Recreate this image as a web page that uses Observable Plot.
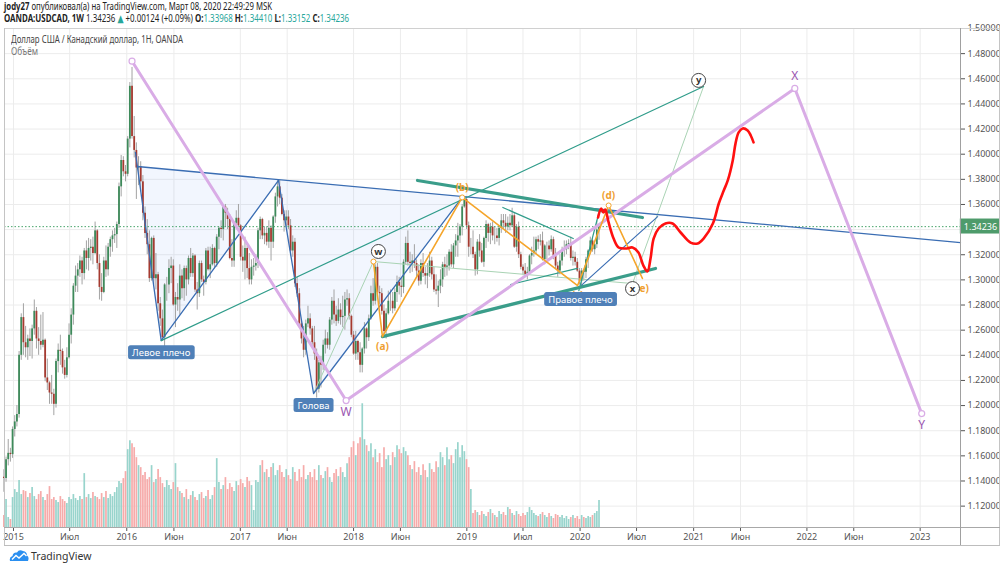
<!DOCTYPE html>
<html lang="ru">
<head>
<meta charset="utf-8">
<script src="https://cdn.jsdelivr.net/npm/d3@7"></script>
<script src="https://cdn.jsdelivr.net/npm/@observablehq/plot@0.6"></script>
<style>
  html,body{margin:0;padding:0;background:#fff;}
  #wrap{position:relative;width:1000px;height:568px;overflow:hidden;font-family:"Noto Sans","Open Sans","DejaVu Sans",sans-serif;}
  #wrap svg.plotlayer{position:absolute;left:0;top:0;}
  .t{position:absolute;white-space:nowrap;transform-origin:0 50%;display:inline-block;line-height:11px;}
  .ln{position:absolute;}
  .v{color:#26a69a;}
</style>
</head>
<body>
<div id="wrap">
  <div class="t" id="h1" style="left:4px;top:1px;font-size:10.5px;color:#222"><b>jody27</b> опубликовал(а) на TradingView.com, Март 08, 2020 22:49:29 MSK</div>
  <div class="t" id="h2" style="left:4px;top:13px;font-size:10.5px;color:#222"><b>OANDA:USDCAD, 1W</b> <span id="hv"></span> <span class="v">▲</span> +0.00124 (+0.09%) <b>O:</b><span class="v" id="ho"></span> <b>H:</b><span class="v" id="hh"></span> <b>L:</b><span class="v" id="hl"></span> <b>C:</b><span class="v" id="hc"></span></div>
  <div class="t" id="h3" style="left:11px;top:34px;font-size:10.5px;color:#444">Доллар США / Канадский доллар, 1Н, OANDA</div>
  <div class="t" id="h4" style="left:11px;top:46px;font-size:10px;color:#777">Объём</div>
  <div class="ln" style="left:4px;top:28px;width:996px;height:1px;background:#d0d0d0"></div>
  <div class="ln" style="left:4px;top:28px;width:1px;height:517px;background:#c4c4c4"></div>
  <div class="ln" style="left:999px;top:28px;width:1px;height:517px;background:#c4c4c4"></div>
  <div class="ln" style="left:4px;top:545px;width:996px;height:1px;background:#bdbdbd"></div>
  <div class="ln" style="left:4px;top:527px;width:996px;height:1px;background:#a8a8a8"></div>
  <div class="ln" style="left:960px;top:28px;width:1px;height:517px;background:#a0a0a0"></div>
  <svg style="position:absolute;left:9px;top:549px" width="20" height="13" viewBox="0 0 20 13">
    <path d="M1 12 Q0 8 3.5 7 Q4 3 8 3.5 Q10 0 14 2 Q18 2.5 18 6.5 Q20.5 8 19 12 Z" fill="#2a8ff0"/>
    <polyline points="3,10.5 7,6.5 10,9 15,4.5 17.5,7" fill="none" stroke="#fff" stroke-width="1.4"/>
  </svg>
  <div class="t" style="left:31px;top:551px;font-size:10.5px;color:#333">TradingView</div>
</div>
<script>
// ---------------- DATA ----------------
const firstWeek = "2014-12-01";      // Monday of first weekly candle
const firstOpen = 1.143;
const close = [
1.142,1.157,1.162,1.161,1.181,
1.187,1.193,1.240,1.270,1.250,1.246,1.253,1.251,1.261,1.275,1.253,1.251,1.248,1.252,1.222,1.218,1.210,1.209,1.201,1.235,1.244,1.243,1.230,1.224,1.238,1.256,1.272,1.295,1.303,1.308,1.315,1.305,1.323,1.317,1.325,1.326,1.321,1.339,1.313,1.294,1.290,1.315,1.308,1.326,1.332,1.335,1.336,1.344,1.374,1.395,1.386,1.384,
1.412,1.454,1.414,1.403,1.389,1.390,1.378,1.353,1.337,1.328,1.301,1.333,1.301,1.304,1.281,1.269,1.254,1.296,1.296,1.309,1.311,1.280,1.286,1.284,1.303,1.293,1.309,1.300,1.317,1.305,1.319,1.292,1.289,1.313,1.300,1.298,1.323,1.308,1.312,1.325,1.313,1.334,1.341,1.340,1.358,1.353,1.348,1.317,1.315,1.345,1.349,1.343,
1.318,1.315,1.325,1.309,1.300,1.310,1.311,1.313,1.339,1.348,1.335,1.337,1.330,1.341,1.330,1.350,1.366,1.374,1.365,1.352,1.347,1.350,1.343,1.323,1.330,1.297,1.289,1.265,1.253,1.244,1.265,1.269,1.261,1.250,1.241,1.213,1.234,1.232,1.248,1.253,1.248,1.268,1.283,1.272,1.267,1.276,1.270,1.271,1.284,1.285,1.271,1.256,
1.241,1.251,1.242,1.232,1.245,1.261,1.254,1.269,1.289,1.283,1.310,1.290,1.289,1.275,1.259,1.273,1.283,1.283,1.277,1.290,1.298,1.295,1.294,1.314,1.329,1.314,1.313,1.315,1.313,1.307,1.299,1.313,1.305,1.303,1.305,1.315,1.304,1.292,1.291,1.295,1.300,1.312,1.310,1.311,1.322,1.312,1.327,1.331,1.335,1.342,1.358,1.364,1.343,
1.326,1.326,1.320,1.308,1.330,1.323,1.314,1.333,1.344,1.337,1.342,1.335,1.335,1.333,1.341,1.347,1.345,1.342,1.345,1.343,1.351,1.326,1.342,1.320,1.310,1.307,1.304,1.306,1.319,1.321,1.323,1.332,1.330,1.331,1.316,1.327,1.327,1.324,1.332,1.319,1.311,1.307,1.315,1.324,1.324,1.328,1.329,1.317,1.318,1.314,1.307,1.299,
1.307,1.306,1.316,1.323,1.331,1.324,1.328,1.33968,1.34236];
const high = [
1.149,1.159,1.173,1.166,1.183,
1.192,1.200,1.243,1.273,1.281,1.263,1.256,1.261,1.264,1.284,1.278,1.262,1.272,1.274,1.253,1.237,1.219,1.224,1.213,1.237,1.249,1.256,1.245,1.236,1.246,1.265,1.277,1.297,1.311,1.313,1.319,1.318,1.325,1.331,1.333,1.332,1.334,1.346,1.340,1.320,1.305,1.318,1.327,1.329,1.334,1.339,1.341,1.346,1.377,1.399,1.398,1.391,
1.414,1.457,1.469,1.430,1.409,1.398,1.394,1.383,1.358,1.348,1.339,1.334,1.335,1.321,1.306,1.286,1.276,1.297,1.302,1.316,1.318,1.316,1.290,1.297,1.312,1.308,1.311,1.311,1.319,1.325,1.321,1.320,1.298,1.315,1.315,1.303,1.325,1.326,1.326,1.328,1.326,1.336,1.342,1.347,1.359,1.360,1.357,1.352,1.332,1.346,1.355,1.360,
1.344,1.327,1.334,1.327,1.321,1.316,1.317,1.320,1.341,1.350,1.349,1.342,1.342,1.347,1.343,1.351,1.369,1.379,1.379,1.368,1.355,1.355,1.355,1.348,1.335,1.333,1.302,1.293,1.267,1.263,1.268,1.279,1.273,1.263,1.263,1.245,1.236,1.239,1.252,1.260,1.258,1.270,1.286,1.292,1.279,1.285,1.281,1.287,1.290,1.292,1.289,1.272,
1.259,1.259,1.252,1.250,1.246,1.266,1.262,1.272,1.295,1.301,1.312,1.313,1.295,1.293,1.280,1.277,1.291,1.292,1.290,1.293,1.303,1.302,1.301,1.316,1.334,1.339,1.322,1.320,1.328,1.316,1.312,1.316,1.321,1.310,1.313,1.322,1.318,1.310,1.304,1.299,1.308,1.314,1.318,1.320,1.324,1.328,1.329,1.336,1.345,1.344,1.360,1.366,1.366,
1.346,1.333,1.339,1.322,1.332,1.336,1.329,1.334,1.347,1.345,1.345,1.346,1.342,1.341,1.343,1.352,1.352,1.352,1.350,1.352,1.357,1.353,1.344,1.346,1.322,1.312,1.313,1.310,1.320,1.326,1.334,1.334,1.335,1.336,1.338,1.328,1.330,1.331,1.335,1.334,1.325,1.314,1.320,1.326,1.331,1.331,1.332,1.334,1.323,1.322,1.317,1.309,
1.309,1.308,1.318,1.324,1.334,1.333,1.329,1.347,1.34410];
const low = [
1.131,1.139,1.152,1.155,1.158,
1.175,1.183,1.190,1.236,1.240,1.238,1.236,1.239,1.237,1.256,1.245,1.240,1.244,1.246,1.219,1.212,1.201,1.201,1.192,1.198,1.226,1.232,1.225,1.221,1.222,1.237,1.249,1.264,1.290,1.290,1.302,1.296,1.300,1.308,1.307,1.315,1.312,1.320,1.308,1.284,1.283,1.289,1.302,1.303,1.318,1.322,1.329,1.325,1.341,1.366,1.382,1.378,
1.382,1.405,1.412,1.397,1.364,1.375,1.370,1.347,1.333,1.320,1.298,1.299,1.296,1.292,1.275,1.263,1.251,1.246,1.283,1.289,1.297,1.279,1.262,1.275,1.272,1.285,1.283,1.287,1.296,1.302,1.302,1.290,1.276,1.286,1.298,1.287,1.296,1.307,1.301,1.311,1.309,1.310,1.324,1.333,1.331,1.342,1.340,1.316,1.310,1.310,1.340,1.342,
1.315,1.306,1.300,1.301,1.296,1.296,1.303,1.307,1.309,1.332,1.332,1.328,1.327,1.325,1.315,1.325,1.345,1.358,1.360,1.351,1.338,1.342,1.340,1.319,1.318,1.294,1.286,1.262,1.249,1.238,1.240,1.262,1.256,1.248,1.236,1.206,1.210,1.214,1.228,1.241,1.245,1.244,1.264,1.265,1.263,1.265,1.264,1.262,1.260,1.279,1.268,1.254,
1.240,1.236,1.236,1.226,1.226,1.241,1.245,1.251,1.268,1.279,1.280,1.286,1.280,1.272,1.255,1.253,1.272,1.275,1.273,1.275,1.282,1.288,1.286,1.289,1.312,1.311,1.305,1.306,1.309,1.302,1.295,1.296,1.302,1.296,1.293,1.302,1.300,1.290,1.288,1.278,1.289,1.294,1.302,1.303,1.307,1.310,1.309,1.318,1.318,1.329,1.335,1.357,1.340,
1.318,1.320,1.317,1.303,1.304,1.318,1.313,1.310,1.325,1.330,1.328,1.331,1.328,1.330,1.327,1.337,1.340,1.337,1.339,1.339,1.342,1.325,1.322,1.317,1.308,1.304,1.302,1.300,1.305,1.312,1.318,1.320,1.324,1.327,1.315,1.312,1.316,1.319,1.322,1.316,1.309,1.302,1.304,1.311,1.318,1.320,1.324,1.315,1.311,1.311,1.306,1.296,
1.295,1.299,1.301,1.309,1.320,1.322,1.320,1.325,1.33152];
const volume = [
12,28,10,8,30,
38,35,47,33,37,36,30,34,40,31,28,33,
36,30,27,33,41,28,30,27,25,31,28,26,24,
30,28,33,29,27,31,28,54,30,
33,29,35,31,30,28,34,30,36,29,33,31,35,40,
46,44,49,56,
78,87,84,80,70,62,
60,52,55,48,50,62,45,48,58,50,44,40,47,
42,38,45,64,40,36,
34,30,38,28,32,36,30,27,33,35,29,31,37,28,32,
40,69,45,38,42,50,38,44,40,36,46,
42,48,44,40,50,46,42,17,47,45,
62,67,55,58,50,60,64,52,57,62,55,50,58,
52,48,60,55,46,58,50,62,48,52,
55,50,58,47,62,52,49,56,60,50,45,54,58,51,60,55,50,64,
70,80,86,72,84,90,124,88,82,76,
84,70,78,65,74,60,80,68,72,62,75,70,
82,78,74,80,76,72,
62,58,66,55,60,52,63,57,50,64,58,55,
66,60,75,70,62,80,68,72,64,78,85,70,82,76,68,60,38,
14,17,15,12,16,13,11,15,18,14,12,10,16,13,15,12,20,18,14,12,16,13,11,14,12,15,20,17,14,12,11,13,15,12,10,14,11,9,13,12,10,12,9,11,8,10,12,9,11,8,12,10,9,11,10,12,14,16,
27];

// axes
const xTickDates  = ["2015-01-01","2015-07-01","2016-01-01","2016-06-01","2017-01-01","2017-06-01","2018-01-01","2018-06-01","2019-01-01","2019-07-01","2020-01-01","2020-07-01","2021-01-01","2021-06-01","2022-01-01","2022-06-01","2023-01-01"];
const xTickLabels = ["2015","Июл","2016","Июн","2017","Июн","2018","Июн","2019","Июл","2020","Июл","2021","Июн","2022","Июн","2023"];
const yTicks = [1.12,1.14,1.16,1.18,1.20,1.22,1.24,1.26,1.28,1.30,1.32,1.34,1.36,1.38,1.40,1.42,1.44,1.46,1.48,1.50];
const xDomainDates = ["2014-12-03","2023-05-11"];
const yDomain = [1.103, 1.50];
const volDomain = [0, 500];

// drawings (dates, prices)
const wxyDates  = ["2016-01-18","2017-12-08","2021-11-23","2023-01-06"];
const wxyPrices = [1.474, 1.204, 1.4523, 1.1936];
const wxyLabels = ["", "W", "X", "Y"];
const wxyPlace  = ["none","below","above","below"];

const hsZigDates  = ["2016-01-29","2016-04-21","2017-05-04","2017-08-25","2018-12-17"];
const hsZigPrices = [1.4014, 1.2517, 1.3791, 1.2096, 1.3656];
const hsFillDates  = ["2016-02-04","2016-04-21","2017-05-04","2017-08-25","2018-12-17"];
const hsFillPrices = [1.3902, 1.2517, 1.3791, 1.2096, 1.3656];
const neckDates  = ["2016-02-04","2023-05-11"];
const neckPrices = [1.3902, 1.3297];
const rsDates  = ["2019-12-28","2020-09-07"];
const rsPrices = [1.2939, 1.3504];
const hsLabelDates  = ["2016-04-21","2017-08-25","2020-01-02"];
const hsLabelPrices = [1.2517, 1.2096, 1.2939];
const hsLabelText   = ["Левое плечо","Голова","Правое плечо"];

const tealThin = [
  {dates:["2016-04-21","2021-02-02"], prices:[1.2517,1.4539]},
  {dates:["2019-04-27","2019-12-10"], prices:[1.3576,1.3329]},
  {dates:["2019-05-22","2019-12-23"], prices:[1.2963,1.3091]},
  {dates:["2019-12-28","2020-03-01"], prices:[1.2915,1.3528]}
];
const tealThick = [
  {dates:["2018-04-04","2020-08-31"], prices:[1.2549,1.3091]},
  {dates:["2018-07-26","2020-07-20"], prices:[1.3791,1.3496]}
];
const wxyMinorDates  = ["2017-08-25","2018-03-06","2020-06-18","2021-02-02"];
const wxyMinorPrices = [1.2096, 1.3146, 1.2971, 1.4539];
const circDates  = ["2018-03-22","2020-06-18","2021-01-17"];
const circPrices = [1.3226, 1.2931, 1.4587];
const circLabels = ["w","x","y"];

const abcDates  = ["2018-03-06","2018-04-04","2018-12-17","2019-12-24","2020-04-02","2020-07-20"];
const abcPrices = [1.3146, 1.2549, 1.3656, 1.2955, 1.3592, 1.3011];
const abcLabels = ["", "(a)", "(b)", "(c)", "(d)", "(e)"];
const abcPlace  = ["none","below","above","below","above","below"];

const redDates = ["2020-02-28","2020-03-09","2020-03-16","2020-03-22","2020-04-02","2020-04-18","2020-05-04","2020-05-27","2020-06-18","2020-07-07","2020-07-23","2020-08-05","2020-08-15","2020-08-25","2020-09-10","2020-10-02","2020-10-25","2020-11-20","2020-12-22","2021-01-14","2021-02-02","2021-03-04","2021-03-23","2021-04-08","2021-04-21","2021-05-07","2021-05-16","2021-05-26","2021-06-08","2021-06-24","2021-07-04","2021-07-13"];
const redPrices = [1.3496,1.3568,1.3536,1.3560,1.3457,1.3329,1.3258,1.3250,1.3258,1.3218,1.3114,1.3067,1.3170,1.3329,1.3409,1.3449,1.3449,1.3377,1.3297,1.3290,1.3329,1.3449,1.3608,1.3711,1.3791,1.3950,1.4086,1.4173,1.4205,1.4189,1.4149,1.4094];

// ---------------- BUILD ----------------
const parseDate = d3.utcParse("%Y-%m-%d");
const fmt5 = d3.format(".5f");
const svgNS = "http://www.w3.org/2000/svg";
const xDomain = xDomainDates.map(parseDate);
const xTicks = xTickDates.map(parseDate);
const labelOf = new Map(xTicks.map((d, i) => [+d, xTickLabels[i]]));

const start = parseDate(firstWeek);
const weeks = d3.utcMonday.range(start, d3.utcDay.offset(start, 7 * close.length));
const n = Math.min(weeks.length, close.length, high.length, low.length, volume.length);
const candles = d3.range(n).map(i => ({
  date: weeks[i], open: i ? close[i - 1] : firstOpen, close: close[i],
  high: high[i], low: low[i], volume: volume[i]
}));
const last = candles[n - 1];

const pts = (dates, prices, extra = {}) => dates.map((d, i) => {
  const o = {date: parseDate(d), price: prices[i]};
  for (const k in extra) o[k] = extra[k][i];
  return o;
});

const GREEN = "#3d8a5a", RED = "#a63a30", WICK = "#a3a3a3";
const VOL_UP = "#98d4cc", VOL_DN = "#f6abaa";
const BLUE = "#3a6db3", TEAL = "#2f9c8a", PINK = "#d9ace6", ORANGE = "#f5a52a";

const base = {
  width: 1000, height: 568, marginTop: 28, marginBottom: 41, marginLeft: 4, marginRight: 40,
  style: {background: "transparent", fontFamily: '"Noto Sans","Open Sans",sans-serif', fontSize: "9px", color: "#555"}
};

// Layer 0: grid + axes (the tick label hidden under the last-price tag, as TradingView does)
const layer0 = Plot.plot({
  ...base,
  x: {type: "utc", domain: xDomain, ticks: xTicks, tickFormat: d => labelOf.get(+d), tickSize: 4, tickPadding: 2, label: null},
  y: {domain: yDomain, ticks: yTicks, tickFormat: d => Math.abs(d - last.close) < 0.008 ? "" : fmt5(d), axis: "right", tickSize: 4, tickPadding: 3, label: null},
  marks: [
    Plot.ruleX(xTicks, {stroke: "#ececec"}),
    Plot.ruleY(yTicks, {stroke: "#ececec"})
  ]
});

// Layer 1: volume
const layer1 = Plot.plot({
  ...base,
  x: {type: "utc", domain: xDomain, axis: null},
  y: {domain: volDomain, axis: null},
  color: {type: "identity"},
  marks: [
    Plot.ruleX(candles, {x: "date", y1: 0, y2: "volume", stroke: d => d.close >= d.open ? VOL_UP : VOL_DN, strokeWidth: 1.7})
  ]
});

// Drawings data
const wxy = pts(wxyDates, wxyPrices, {label: wxyLabels, place: wxyPlace});
const hsZig = pts(hsZigDates, hsZigPrices);
const hsFill = pts(hsFillDates, hsFillPrices);
const neck = pts(neckDates, neckPrices);
const rs = pts(rsDates, rsPrices);
const hsLab = pts(hsLabelDates, hsLabelPrices, {label: hsLabelText});
const wxyMinor = pts(wxyMinorDates, wxyMinorPrices);
const circ = pts(circDates, circPrices, {label: circLabels});
const abc = pts(abcDates, abcPrices, {label: abcLabels, place: abcPlace});
const red = pts(redDates, redPrices);

const segMarks = (segs, opts) => segs.map(s => Plot.line(pts(s.dates, s.prices), {x: "date", y: "price", ...opts}));

// Layer 2: candles + drawings
const layer2 = Plot.plot({
  ...base,
  x: {type: "utc", domain: xDomain, axis: null},
  y: {domain: yDomain, axis: null},
  color: {type: "identity"},
  marks: [
    Plot.line(hsFill, {x: "date", y: "price", fill: "#5b8def", fillOpacity: 0.08, stroke: "none"}),
    Plot.ruleX(candles, {x: "date", y1: "low", y2: "high", stroke: WICK, strokeWidth: 1}),
    Plot.ruleX(candles, {x: "date", y1: "open", y2: "close", stroke: d => d.close >= d.open ? GREEN : RED, strokeWidth: 1.8}),
    Plot.ruleY([last.close], {stroke: "#47a36a", strokeDasharray: "1.5,2", strokeWidth: 1}),
    Plot.line(wxyMinor, {x: "date", y: "price", stroke: "#a9d3b4", strokeWidth: 1}),
    Plot.line(hsZig, {x: "date", y: "price", stroke: BLUE, strokeWidth: 1.3}),
    Plot.line(neck, {x: "date", y: "price", stroke: BLUE, strokeWidth: 1.3}),
    Plot.line(rs, {x: "date", y: "price", stroke: BLUE, strokeWidth: 1.1}),
    ...segMarks(tealThin, {stroke: TEAL, strokeWidth: 1.2}),
    ...segMarks(tealThick, {stroke: "#3a9d8a", strokeWidth: 3.2}),
    Plot.line(wxy, {x: "date", y: "price", stroke: PINK, strokeWidth: 3}),
    Plot.dot(wxy, {x: "date", y: "price", r: 3, fill: "white", stroke: PINK, strokeWidth: 1.2}),
    Plot.line(abc, {x: "date", y: "price", stroke: ORANGE, strokeWidth: 1.6}),
    Plot.dot(abc.filter((d, i) => i % 2 === 0), {x: "date", y: "price", r: 2.5, fill: "white", stroke: ORANGE, strokeWidth: 1}),
    Plot.line(red, {x: "date", y: "price", stroke: "#ff1010", strokeWidth: 2.6, curve: "catmull-rom"}),
    Plot.text(abc.filter(d => d.place === "below"), {x: "date", y: "price", text: "label", dy: 10, fill: "#efa030", fontSize: 10, fontWeight: "bold"}),
    Plot.text(abc.filter(d => d.place === "above"), {x: "date", y: "price", text: "label", dy: -10, fill: "#efa030", fontSize: 10, fontWeight: "bold"}),
    Plot.text(wxy.filter(d => d.place === "below"), {x: "date", y: "price", text: "label", dy: 12, fill: "#9a55b0", fontSize: 12}),
    Plot.text(wxy.filter(d => d.place === "above"), {x: "date", y: "price", text: "label", dy: -12, fill: "#9a55b0", fontSize: 12}),
    Plot.dot(circ, {x: "date", y: "price", r: 7, fill: "white", stroke: "#444", strokeWidth: 1}),
    Plot.text(circ, {x: "date", y: "price", text: "label", fill: "#333", fontSize: 9.5, fontWeight: "bold"}),
    Plot.text(hsLab, {x: "date", y: "price", text: "label", dy: 12, fill: "white", fontSize: 9.5, ariaDescription: "lblbox"}),
    Plot.text([{date: xDomain[1], price: last.close}], {x: "date", y: "price", text: d => fmt5(d.price), dx: 20, fill: "white", fontSize: 9, ariaDescription: "pricebox"})
  ]
});

const wrap = document.getElementById("wrap");
[layer2, layer1, layer0].forEach(svg => { svg.classList.add("plotlayer"); wrap.insertBefore(svg, wrap.firstChild); });

function boxes(svg, desc, fill, padX, padY, rx) {
  svg.querySelectorAll(`g[aria-description="${desc}"] text`).forEach(t => {
    const b = t.getBBox();
    const r = document.createElementNS(svgNS, "rect");
    r.setAttribute("x", b.x - padX);
    r.setAttribute("y", b.y - padY);
    r.setAttribute("width", b.width + 2 * padX);
    r.setAttribute("height", b.height + 2 * padY);
    r.setAttribute("rx", rx);
    r.setAttribute("fill", fill);
    const tr = t.getAttribute("transform");
    if (tr) r.setAttribute("transform", tr);
    t.parentNode.insertBefore(r, t);
  });
}
boxes(layer2, "lblbox", "#4f80b8", 4, 0.5, 2.5);
boxes(layer2, "pricebox", "#4e9b6b", 4, 1, 0);

// header values from the last candle
document.getElementById("hv").textContent = fmt5(last.close);
document.getElementById("ho").textContent = fmt5(last.open);
document.getElementById("hh").textContent = fmt5(last.high);
document.getElementById("hl").textContent = fmt5(last.low);
document.getElementById("hc").textContent = fmt5(last.close);

function fitWidth(id, w) {
  const el = document.getElementById(id);
  const cur = el.getBoundingClientRect().width;
  if (cur > 0) el.style.transform = `scaleX(${w / cur})`;
}
fitWidth("h1", 268); fitWidth("h2", 345); fitWidth("h3", 172); fitWidth("h4", 27);
</script>
</body>
</html>
